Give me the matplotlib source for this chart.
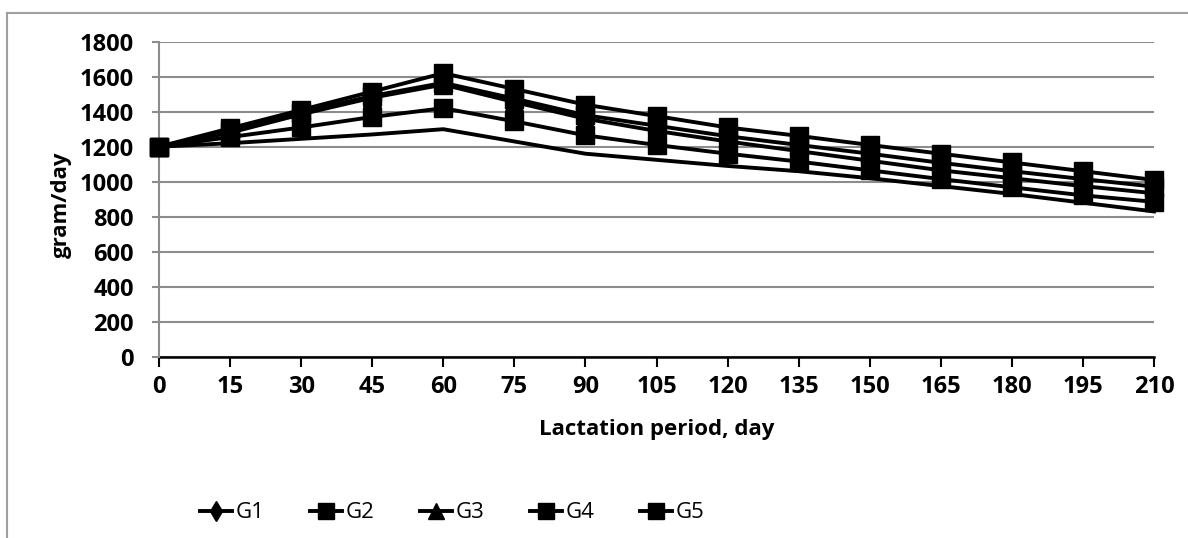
import matplotlib
matplotlib.use("Agg")
import matplotlib.pyplot as plt
from matplotlib.lines import Line2D

days = [0, 15, 30, 45, 60, 75, 90, 105, 120, 135, 150, 165, 180, 195, 210]
g1 = [1200, 1220, 1245, 1270, 1300, 1230, 1160, 1125, 1090, 1060, 1020, 975, 930, 880, 830]
g2 = [1200, 1255, 1310, 1370, 1420, 1345, 1265, 1210, 1160, 1115, 1065, 1015, 968, 922, 885]
g3 = [1200, 1280, 1385, 1480, 1555, 1455, 1360, 1290, 1230, 1175, 1120, 1065, 1020, 975, 934]
g4 = [1200, 1290, 1395, 1490, 1565, 1475, 1380, 1320, 1260, 1210, 1160, 1108, 1060, 1015, 972]
g5 = [1200, 1305, 1410, 1515, 1620, 1530, 1440, 1375, 1310, 1262, 1210, 1160, 1110, 1060, 1010]
labels = ["G1", "G2", "G3", "G4", "G5"]
yticks = [0, 200, 400, 600, 800, 1000, 1200, 1400, 1600, 1800]

W, H = 1188, 538
fig = plt.figure(figsize=(W / 100, H / 100), dpi=100)
ax = fig.add_axes([159 / W, 1 - 356.7 / H, (1154 - 159) / W, (356.7 - 41.7) / H])

FONT = "Open Sans"
FS_TICK = 17
FS_LAB = 16
FS_LEG = 16
lw = 2.8
ms = 13

ax.plot(days, g1, color="black", lw=lw, zorder=3, clip_on=False)
ax.plot(days, g2, color="black", lw=lw, marker="s", ms=ms, zorder=4, clip_on=False)
ax.plot(days, g3, color="black", lw=lw, marker="^", ms=ms, zorder=4, clip_on=False)
ax.plot(days, g4, color="black", lw=lw, marker="s", ms=ms, zorder=5, clip_on=False)
ax.plot(days, g5, color="black", lw=lw, marker="s", ms=ms, zorder=6, clip_on=False)

ax.set_xlim(0, 210)
ax.set_ylim(0, 1800)
ax.set_xticks(days)
ax.set_yticks(yticks)
ax.set_xticklabels([str(d) for d in days], fontfamily=FONT, fontweight="bold", fontsize=FS_TICK)
ax.set_yticklabels([str(v) for v in yticks], fontfamily=FONT, fontweight="bold", fontsize=FS_TICK)

ax.grid(axis="y", color="#8c8c8c", lw=1.5, zorder=0)
ax.set_axisbelow(True)
for s in ["top", "right"]:
    ax.spines[s].set_visible(False)
ax.spines["left"].set_color("#8c8c8c")
ax.spines["left"].set_linewidth(1.5)
ax.spines["bottom"].set_color("black")
ax.spines["bottom"].set_linewidth(1.8)
ax.spines["bottom"].set_zorder(2)
ax.tick_params(axis="y", direction="out", length=5, width=1.5, color="#8c8c8c", pad=13)
ax.tick_params(axis="x", direction="out", length=7, width=1.5, color="black", pad=6)

ax.set_xlabel("Lactation period, day", fontfamily=FONT, fontweight="bold", fontsize=FS_LAB)
ax.xaxis.set_label_coords(0.5, -(419 - 356.7) / 315)
ax.set_ylabel("gram/day", fontfamily=FONT, fontweight="bold", fontsize=FS_LAB)
ax.yaxis.set_label_coords((72 - 159) / 995, (356.7 - 204.5) / 315)

markers = ["d", "s", "^", "s", "s"]
handles = [Line2D([], [], color="black", lw=lw, marker=m, ms=(10 if m == "d" else 11))
           for m in markers]
fig.legend(handles, labels, loc="center left", bbox_to_anchor=(200 / W, 1 - 513 / H),
           ncol=5, frameon=False, prop={"family": FONT, "size": FS_LEG},
           handlelength=1.45, handletextpad=0.15, columnspacing=2.05, borderpad=0,
           borderaxespad=0)

# outer chart border
fig.add_artist(Line2D([7 / W, 1.0], [1 - 12.5 / H, 1 - 12.5 / H], color="#a0a0a0", lw=1.5,
                      transform=fig.transFigure))
fig.add_artist(Line2D([7 / W, 7 / W], [1 - 12.5 / H, 0], color="#a0a0a0", lw=1.5,
                      transform=fig.transFigure))

fig.savefig("out.png", dpi=100)
